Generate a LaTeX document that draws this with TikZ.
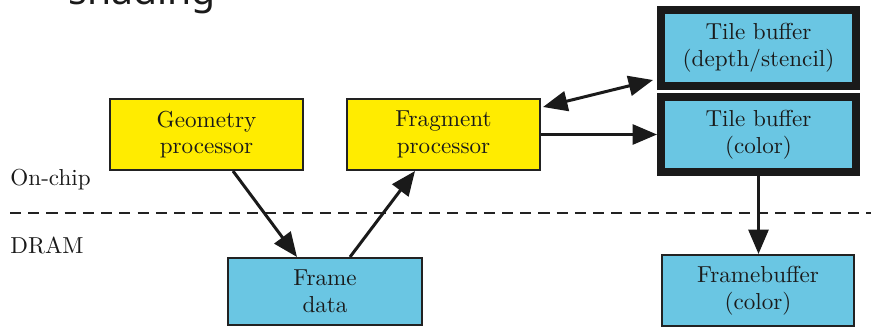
\documentclass[tikz,border=0pt]{standalone}
\usepackage{fontspec}
\newfontfamily\uisans{Noto Sans}
\usetikzlibrary{arrows.meta,calc}
\definecolor{chipyellow}{RGB}{255,236,0}
\definecolor{memblue}{RGB}{106,198,227}
\definecolor{edge}{RGB}{34,34,34}
\definecolor{ink}{RGB}{26,26,26}
\begin{document}
\begin{tikzpicture}[x=0.45pt,y=-0.45pt,
  >={Triangle[length=11pt,width=9pt]},
  box/.style={draw=edge, line width=0.9pt, align=center, inner sep=0pt,
    font=\fontsize{10.4}{12}\selectfont, text=ink},
  proc/.style={box, fill=chipyellow},
  mem/.style={box, fill=memblue},
  tile/.style={mem, draw=ink, line width=3.6pt},
  link/.style={draw=ink, line width=1.35pt},
  tag/.style={anchor=base west, inner sep=0pt, text=ink,
    font=\fontsize{10.4}{12}\selectfont},
  divider/.style={draw=edge, line width=0.9pt, dash pattern=on 5pt off 3.2pt}
]
\useasboundingbox (0,0) rectangle (871,328);

% caption fragment running off the top edge
\node[anchor=base west, inner sep=0pt, text=ink, font=\uisans\fontsize{17.6}{20}\selectfont]
  (cap) at (68,4) {shading};

% on-chip / off-chip boundary
\coordinate (dl) at (10,213);
\coordinate (dr) at (871,213);
\draw[divider] (dl) -- (dr);
\node[tag] (onchip) at (10,185) {On-chip};
\node[tag] (dram) at (10,253) {DRAM};

% processors
\node[proc, minimum width=86.85pt, minimum height=31.95pt] (geo) at (206.5,134.5)
  {Geometry\\processor};
\node[proc, minimum width=86.85pt, minimum height=31.95pt] (frag) at (443.5,134.5)
  {Fragment\\processor};

% on-chip tile buffers
\node[tile, minimum width=87.75pt, minimum height=34.2pt] (tdepth) at (758.5,48)
  {Tile buffer\\(depth/stencil)};
\node[tile, minimum width=87.75pt, minimum height=33.75pt] (tcolor) at (758.5,134.5)
  {Tile buffer\\(color)};

% DRAM
\node[mem, minimum width=87.3pt, minimum height=30.15pt] (frame) at (325,291.5)
  {Frame\\data};
\node[mem, minimum width=86.4pt, minimum height=31.95pt] (fb) at (758,290.5)
  {Framebuffer\\(color)};

% data flow
\draw[link,->] ($(geo.south)+(26.5,0)$) -- ($(frame.north)+(-28,0)$);
\draw[link,->] ($(frame.north)+(25,0)$) -- ($(frag.south)+(-28.5,0)$);
\draw[link,->] (frag.east |- tcolor.west) -- (tcolor.west);
\draw[link,<->] ($(frag.north east)+(2,9)$) -- ($(tdepth.south west)+(-4,-10)$);
\draw[link,->] (tcolor.south) -- (tcolor.south |- fb.north);
\end{tikzpicture}
\end{document}
